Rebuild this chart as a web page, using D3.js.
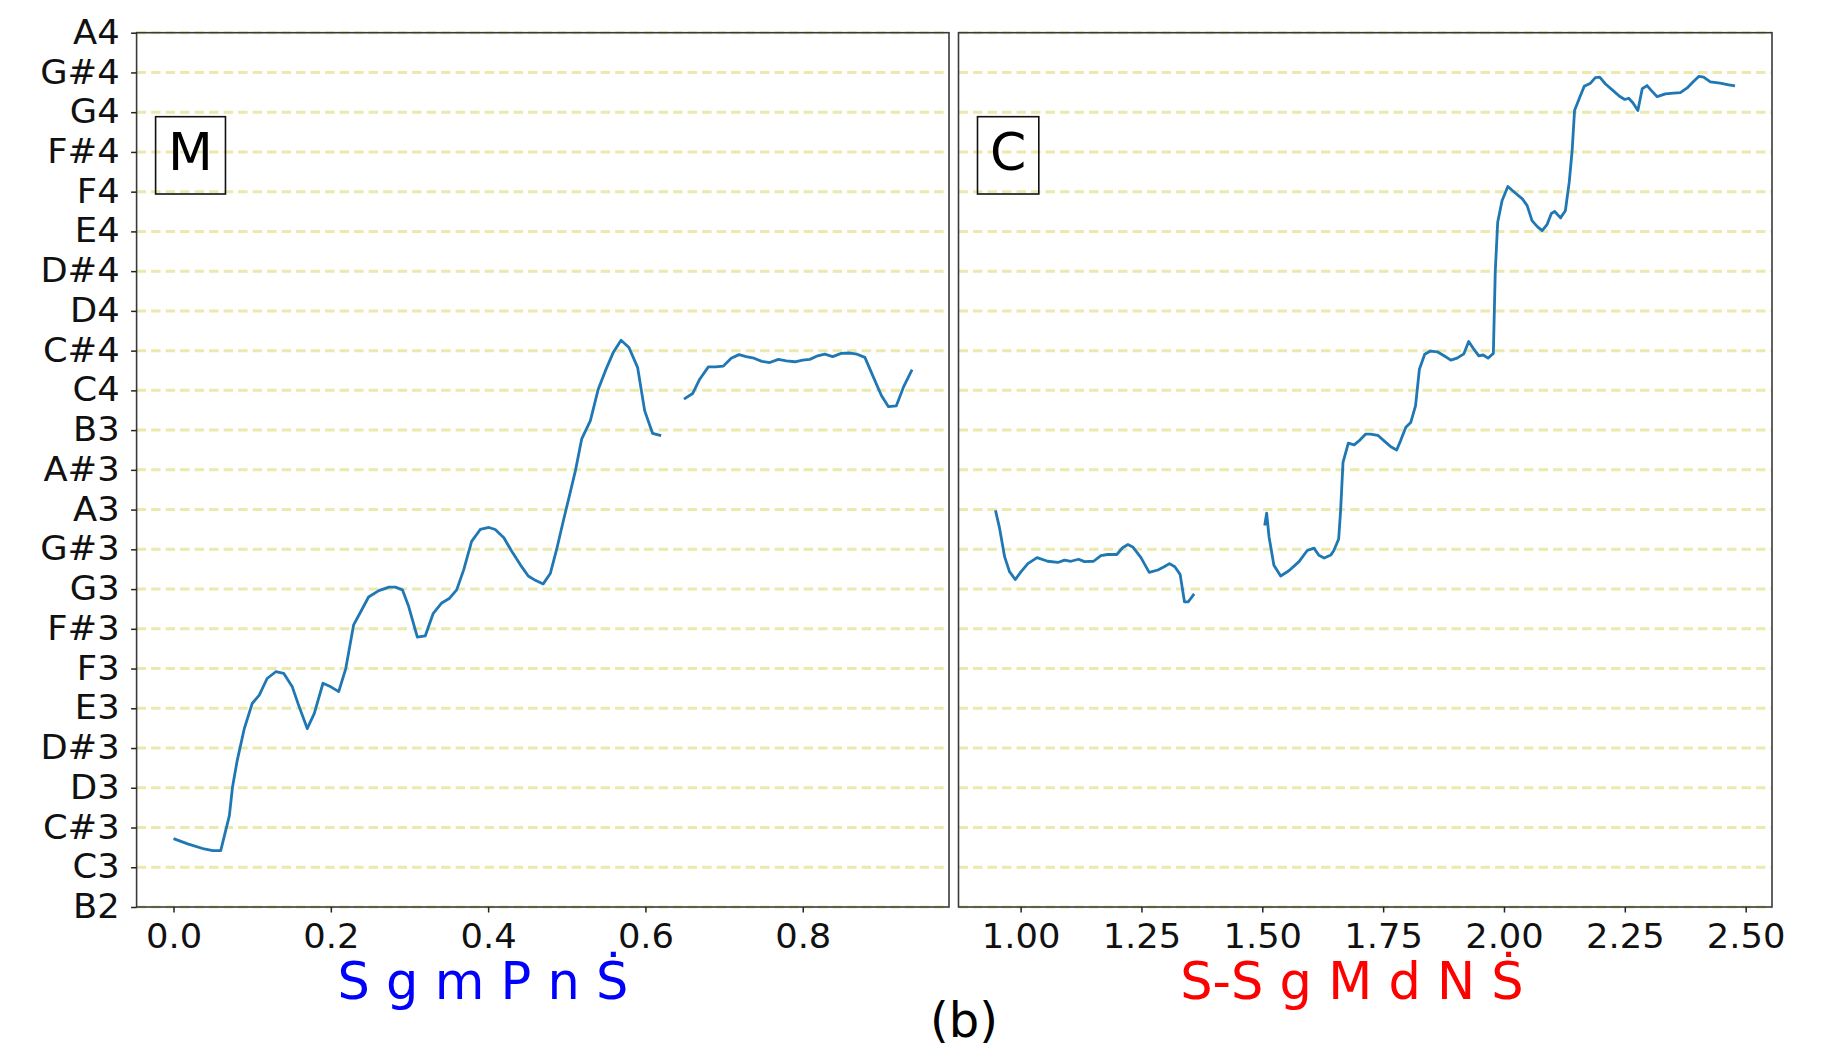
<!DOCTYPE html>
<html>
<head>
<meta charset="utf-8">
<script src="https://cdn.jsdelivr.net/npm/d3@7"></script>
<style>
    body { margin: 0; background: #fff; }
    text { font-family: "DejaVu Sans", sans-serif; }
</style>
</head>
<body>
<script>
// y axis notes, B2 (midi 47) to A4 (midi 69)
var noteNames = ["B2","C3","C#3","D3","D#3","E3","F3","F#3","G3","G#3","A3","A#3",
                 "B3","C4","C#4","D4","D#4","E4","F4","F#4","G4","G#4","A4"];
var noteMidi = d3.range(47, 70);

// panel M: time (s) and pitch (midi), null = unvoiced gap
var timesM = [0.000,0.018,0.039,0.050,0.060,0.071,0.075,0.081,0.090,0.100,0.109,0.119,0.130,0.140,0.151,0.159,
              0.170,0.179,0.190,0.200,0.210,0.219,0.229,0.238,0.248,0.261,0.274,0.282,0.291,0.299,0.310,0.320,
              0.330,0.341,0.351,0.360,0.369,0.379,0.390,0.401,0.409,0.420,0.430,0.441,0.451,0.460,0.470,0.479,
              0.487,0.496,0.502,0.511,0.519,0.530,0.540,0.549,0.559,0.569,0.579,0.590,0.599,0.609,0.620,0.635,
              0.649,0.660,0.669,0.680,0.689,0.699,0.709,0.719,0.728,0.738,0.748,0.758,0.769,0.779,0.790,0.800,
              0.809,0.819,0.828,0.838,0.849,0.860,0.869,0.879,0.889,0.900,0.909,0.919,0.928,0.939];
var pitchM = [48.72,48.59,48.46,48.42,48.42,49.30,50.02,50.69,51.49,52.12,52.33,52.75,52.92,52.88,52.54,52.08,
              51.49,51.87,52.63,52.54,52.42,53.00,54.10,54.43,54.80,54.96,55.05,55.05,54.98,54.56,53.79,53.82,
              54.38,54.65,54.77,54.98,55.49,56.20,56.50,56.55,56.50,56.29,55.95,55.61,55.33,55.22,55.13,55.39,
              55.99,56.75,57.24,57.98,58.78,59.24,60.03,60.49,60.95,61.26,61.08,60.58,59.49,58.92,58.86,null,
              59.78,59.92,60.28,60.59,60.59,60.61,60.81,60.90,60.85,60.81,60.73,60.70,60.78,60.74,60.72,60.76,
              60.78,60.87,60.91,60.85,60.93,60.94,60.91,60.83,60.37,59.87,59.59,59.61,60.08,60.52];

// panel C
var timesC = [0.948,0.956,0.967,0.977,0.989,1.001,1.015,1.034,1.056,1.077,1.091,1.104,1.120,1.132,1.151,1.166,
              1.180,1.199,1.211,1.222,1.232,1.249,1.266,1.284,1.297,1.308,1.319,1.330,1.339,1.347,1.359,1.430,
              1.505,1.509,1.514,1.524,1.538,1.555,1.576,1.593,1.607,1.617,1.628,1.642,1.648,1.658,1.662,1.667,
              1.678,1.690,1.702,1.714,1.724,1.739,1.752,1.766,1.778,1.786,1.797,1.807,1.817,1.825,1.836,1.848,
              1.862,1.876,1.890,1.903,1.917,1.927,1.938,1.948,1.957,1.967,1.978,1.982,1.987,1.996,2.008,2.024,
              2.038,2.048,2.058,2.069,2.079,2.089,2.098,2.105,2.117,2.127,2.135,2.141,2.146,2.157,2.166,2.179,
              2.189,2.198,2.210,2.227,2.239,2.250,2.258,2.267,2.277,2.286,2.296,2.306,2.317,2.334,2.351,2.365,
              2.379,2.392,2.403,2.413,2.427,2.447,2.465,2.478];
var pitchC = [56.98,56.56,55.81,55.44,55.24,55.44,55.64,55.79,55.70,55.67,55.73,55.70,55.75,55.69,55.70,55.84,
              55.87,55.87,56.04,56.12,56.06,55.79,55.42,55.48,55.56,55.64,55.56,55.37,54.68,54.68,54.88,null,
              56.60,56.91,56.31,55.60,55.33,55.46,55.69,55.97,56.03,55.85,55.78,55.86,55.97,56.26,56.97,58.19,
              58.67,58.63,58.75,58.90,58.90,58.87,58.73,58.58,58.50,58.73,59.07,59.19,59.61,60.53,60.91,60.99,
              60.97,60.87,60.76,60.81,60.92,61.23,61.03,60.87,60.89,60.81,60.93,63.00,64.23,64.77,65.13,64.96,
              64.82,64.65,64.27,64.12,64.02,64.17,64.45,64.50,64.34,64.52,65.24,66.03,67.04,67.38,67.65,67.73,
              67.87,67.88,67.71,67.53,67.40,67.32,67.35,67.23,67.04,67.59,67.67,67.53,67.39,67.46,67.48,67.49,
              67.61,67.77,67.90,67.88,67.76,67.73,67.69,67.66];

var ticksM = [0.0, 0.2, 0.4, 0.6, 0.8];
var ticksC = [1.00, 1.25, 1.50, 1.75, 2.00, 2.25, 2.50];

(function(){
    var width = 1830,
        height = 1049;
    var top = 32.7,
        bottom = 907;
    var stretch = 1.07;      //reference text is a bit wide

    var svg = d3.select("body")
        .append("svg")
        .attr("width", width)
        .attr("height", height);

    var y = d3.scaleLinear()
        .domain([47, 69])
        .range([bottom, top]);

    //left panel, with y labels
    drawPanel({
        left: 136.6, right: 949,
        times: timesM, pitch: pitchM,
        ticks: ticksM, fmt: d3.format(".1f"),
        letter: "M", swaras: "S g m P n Ṡ", swaraColor: "#0000ff", swaraX: 483,
        yLabels: true
    });
    //right panel
    drawPanel({
        left: 958.5, right: 1772,
        times: timesC, pitch: pitchC,
        ticks: ticksC, fmt: d3.format(".2f"),
        letter: "C", swaras: "S-S g M d N Ṡ", swaraColor: "#ff0000", swaraX: 1352,
        yLabels: false
    });

    //figure label
    svg.append("text")
        .attr("x", 964)
        .attr("y", 1037)
        .attr("text-anchor", "middle")
        .style("font-size", "48px")
        .text("(b)");

    function drawPanel(p){
        //x domain padded 5% like matplotlib
        var ext = d3.extent(p.times);
        var pad = (ext[1] - ext[0]) * 0.05;
        var x = d3.scaleLinear()
            .domain([ext[0] - pad, ext[1] + pad])
            .range([p.left, p.right]);

        var g = svg.append("g");

        //dashed note grid
        g.selectAll(".grid")
            .data(noteMidi)
            .enter()
            .append("line")
            .attr("class", "grid")
            .attr("x1", p.left)
            .attr("x2", p.right)
            .attr("y1", function(d){ return y(d); })
            .attr("y2", function(d){ return y(d); })
            .style("stroke", "#ebe9ad")
            .style("stroke-width", 3)
            .style("stroke-dasharray", "9.5,5");

        //pitch contour
        var line = d3.line()
            .defined(function(d){ return d[1] !== null; })
            .x(function(d){ return x(d[0]); })
            .y(function(d){ return y(d[1]); });

        g.append("path")
            .datum(d3.zip(p.times, p.pitch))
            .attr("d", line)
            .style("fill", "none")
            .style("stroke", "#1f77b4")
            .style("stroke-width", 2.8)
            .style("stroke-linejoin", "round");

        //frame
        g.append("rect")
            .attr("x", p.left)
            .attr("y", top)
            .attr("width", p.right - p.left)
            .attr("height", bottom - top)
            .style("fill", "none")
            .style("stroke", "#3a3a3a")
            .style("stroke-width", 1.6);

        //x axis
        var xAxis = g.append("g")
            .attr("transform", "translate(0," + bottom + ")")
            .call(d3.axisBottom(x).tickValues(p.ticks).tickFormat(p.fmt).tickSize(5.5).tickPadding(12.5));
        styleAxis(xAxis);

        if (p.yLabels){
            var yAxis = g.append("g")
                .attr("transform", "translate(" + p.left + ",0)")
                .call(d3.axisLeft(y).tickValues(noteMidi)
                    .tickFormat(function(d){ return noteNames[d - 47]; })
                    .tickSize(5.5).tickPadding(11));
            styleAxis(yAxis);
            //keep the right end of the stretched label where it was
            yAxis.selectAll(".tick text").attr("x", -17 / stretch);
        }

        //panel letter in a box
        var label = g.append("text")
            .attr("y", 170)
            .style("font-size", "52px")
            .text(p.letter);
        var w = label.node().getComputedTextLength();
        var boxLeft = p.left + 19;
        label.attr("x", boxLeft + 12.5);
        g.append("rect")
            .attr("x", boxLeft)
            .attr("y", 116.7)
            .attr("width", w + 25)
            .attr("height", 77.3)
            .style("fill", "none")
            .style("stroke", "#111")
            .style("stroke-width", 1.6);

        //swara names under the axis
        g.append("text")
            .attr("x", p.swaraX)
            .attr("y", 999)
            .attr("text-anchor", "middle")
            .style("font-size", "51px")
            .style("fill", p.swaraColor)
            .text(p.swaras);
    };

    function styleAxis(ax){
        ax.select(".domain").remove();
        ax.selectAll(".tick line")
            .style("stroke", "#222")
            .style("stroke-width", 1.5);
        ax.selectAll(".tick text")
            .attr("transform", "scale(" + stretch + ",1)")
            .style("font-family", "DejaVu Sans")
            .style("font-size", "33px")
            .style("fill", "#111");
    };
})();
</script>
</body>
</html>
